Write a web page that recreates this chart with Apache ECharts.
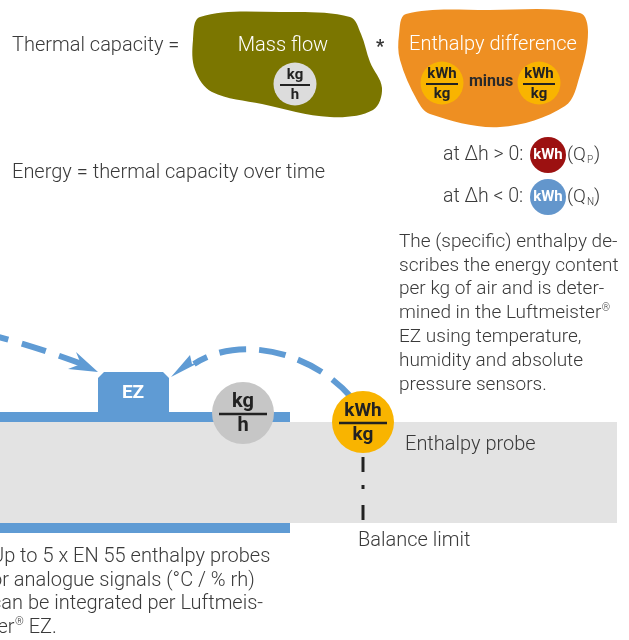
<!DOCTYPE html>
<html><head><meta charset="utf-8">
<script src="https://cdn.jsdelivr.net/npm/echarts@6/dist/echarts.min.js"></script>
<style>html,body{margin:0;padding:0;background:#fff}#c{width:629px;height:640px}</style>
</head><body><div id="c"></div>
<script>
// ---- content ----
var formulaLabels = ['Thermal capacity =', 'Mass flow', '*', 'Enthalpy difference', 'minus'];
var energyLabel = 'Energy = thermal capacity over time';
var conditionLabels = ['at \u0394h > 0:', 'at \u0394h < 0:'];
var conditionSubs = ['P', 'N'];
var unitLabels = ['kg', 'h', 'kWh', 'kg'];
// '^' marks where a superscript ® goes
var paragraphLines = ['The (specific) enthalpy de-', 'scribes the energy content', 'per kg of air and is deter-', 'mined in the Luftmeister^', 'EZ using temperature,', 'humidity and absolute', 'pressure sensors.'];
var bottomLines = ['Up to 5 x EN 55 enthalpy probes', 'or analogue signals (\u00b0C / % rh)', 'can be integrated per Luftmeis-', 'ter^ EZ.'];
var diagramLabels = ['EZ', 'Enthalpy probe', 'Balance limit'];

var FONT = 'Roboto, "Liberation Sans", sans-serif';
var TXT = '#3a3a3a';
var BLUE = '#5f9bd4';
var ctx = document.createElement('canvas').getContext('2d');
function measure(s, size, weight) { ctx.font = (weight || 300) + ' ' + size + 'px ' + FONT; return ctx.measureText(s).width; }

function txt(x, y, s, size, color, weight, align) {
  return {type: 'text', x: x, y: y, z: 10, style: {text: s, fill: color || TXT, fontSize: size, fontFamily: FONT,
    fontWeight: weight || 300, align: align || 'left', verticalAlign: 'middle'}};
}
function lineWithReg(x, y, s, size) {
  var parts = s.split('^');
  if (parts.length === 1) return [txt(x, y, s, size)];
  var out = [txt(x, y, parts[0], size)];
  var w0 = measure(parts[0], size);
  out.push(txt(x + w0 + 0.5, y - 5, '\u00ae', size * 0.55));
  out.push(txt(x + w0 + size * 0.55 * 0.75 + 1, y, parts[1], size));
  return out;
}
function frac(cx, cy, r, fill, top, bot, size, half, gap) {
  return [
    {type: 'circle', z: 8, shape: {cx: cx, cy: cy, r: r}, style: {fill: fill}},
    txt(cx, cy - gap, top, size, '#222', 'bold', 'center'),
    {type: 'line', z: 10, shape: {x1: cx - half, y1: cy + 1, x2: cx + half, y2: cy + 1}, style: {stroke: '#222', lineWidth: size > 16 ? 2.5 : 2}},
    txt(cx, cy + gap + 2, bot, size, '#222', 'bold', 'center')
  ];
}

var g = [];
// formula row
g.push(txt(12, 46, formulaLabels[0], 20));
g.push({type: 'polygon', shape: {smooth: 0.35, points: [[200,17],[280,12],[350,17],[361,34],[370,62],[382,88],[373,110],[330,117],[262,104],[212,92],[195,70],[193,40]]}, style: {fill: '#7b7600'}});
g.push(txt(283, 46, formulaLabels[1], 20, '#fff', 300, 'center'));
g = g.concat(frac(295, 84, 21.5, '#dcdcdc', unitLabels[0], unitLabels[1], 15, 15, 9));
g.push(txt(380, 47, formulaLabels[2], 18, '#333', 'bold', 'center'));
g.push({type: 'polygon', shape: {smooth: 0.35, points: [[406,14],[490,10],[580,13],[588,32],[580,75],[565,106],[500,127],[430,114],[417,100],[400,60],[399,35]]}, style: {fill: '#ee8f22'}});
g.push(txt(493, 45, formulaLabels[3], 20, '#fff', 300, 'center'));
g = g.concat(frac(442, 83, 21.5, '#f9b400', unitLabels[2], unitLabels[3], 15, 16, 9));
g.push(txt(491, 82, formulaLabels[4], 16, '#2a2a2a', 'bold', 'center'));
g = g.concat(frac(539, 83, 21.5, '#f9b400', unitLabels[2], unitLabels[3], 15, 16, 9));

g.push(txt(12, 173, energyLabel, 20));

// conditions
var condColors = ['#9c1111', '#6396cc'];
var condY = [155, 197];
for (var i = 0; i < 2; i++) {
  g.push(txt(443, condY[i], conditionLabels[i], 19.5));
  g.push({type: 'circle', z: 8, shape: {cx: 548, cy: condY[i], r: 18}, style: {fill: condColors[i]}});
  g.push(txt(548, condY[i], unitLabels[2], 15, '#fff', 'bold', 'center'));
  g.push(txt(567, condY[i], '(Q', 19));
  g.push(txt(587, condY[i] + 5, conditionSubs[i], 10));
  g.push(txt(594, condY[i], ')', 19));
}

// paragraph
paragraphLines.forEach(function (l, k) { g = g.concat(lineWithReg(399, 242 + k * 23.8, l, 19)); });

// diagram base
g.push({type: 'rect', shape: {x: 0, y: 422, width: 617, height: 101}, style: {fill: '#e3e3e3'}});
g.push({type: 'rect', shape: {x: 0, y: 412, width: 290, height: 10}, style: {fill: BLUE}});
g.push({type: 'rect', shape: {x: 0, y: 523, width: 290, height: 10}, style: {fill: BLUE}});
g.push({type: 'polygon', shape: {points: [[98,413],[98,378],[104,372],[163,372],[169,378],[169,413]]}, style: {fill: BLUE}});
g.push(txt(133, 393, diagramLabels[0], 19, '#fff', 'bold', 'center'));

// dashed arrows
g.push({type: 'bezierCurve', shape: {x1: -10, y1: 335, cpx1: 20, cpy1: 342, cpx2: 55, cpy2: 354, x2: 82, y2: 364}, style: {stroke: BLUE, lineWidth: 6, fill: null, lineDash: [25, 14], lineDashOffset: 6}});
g.push({type: 'polygon', shape: {points: [[98,372],[76,352],[81,364],[68,369]]}, style: {fill: BLUE}});
g.push({type: 'bezierCurve', shape: {x1: 352, y1: 398, cpx1: 312, cpy1: 352, cpx2: 240, cpy2: 334, x2: 194, y2: 364}, style: {stroke: BLUE, lineWidth: 6, fill: null, lineDash: [27, 13], lineDashOffset: 0}});
g.push({type: 'polygon', shape: {points: [[171,377],[190,355],[192,364],[202,361]]}, style: {fill: BLUE}});

g = g.concat(frac(243, 413, 31, '#c6c6c6', unitLabels[0], unitLabels[1], 20, 24, 11));
g = g.concat(frac(363, 422, 31, '#f9b400', unitLabels[2], unitLabels[3], 19, 24, 11));

// balance limit dash
[[457, 472], [485, 489], [505, 520]].forEach(function (s) {
  g.push({type: 'line', z: 9, shape: {x1: 363, y1: s[0], x2: 363, y2: s[1]}, style: {stroke: '#222', lineWidth: 3}});
});
g.push(txt(405, 445, diagramLabels[1], 20));
g.push(txt(358, 541, diagramLabels[2], 20));

bottomLines.forEach(function (l, k) { g = g.concat(lineWithReg(-9, 557 + k * 23.5, l, 20)); });

var chart = echarts.init(document.getElementById('c'), null, {renderer: 'canvas'});
chart.setOption({animation: false, backgroundColor: '#fff', graphic: {elements: g}});
</script></body></html>
